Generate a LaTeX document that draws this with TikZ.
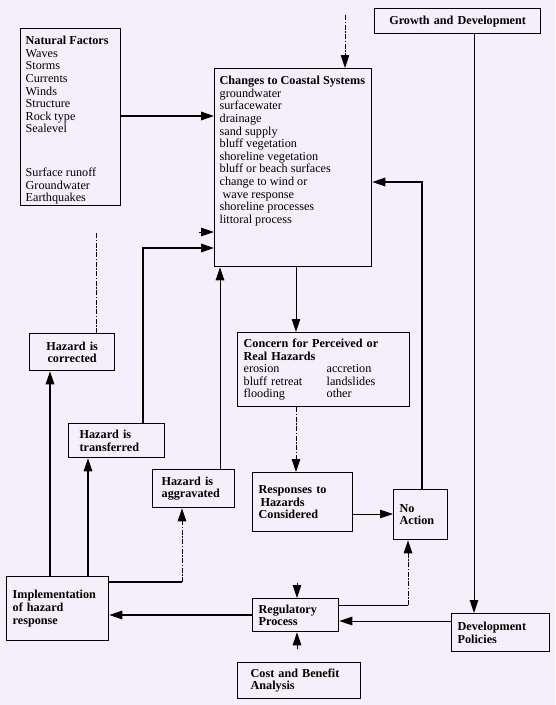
\documentclass[tikz,border=0pt]{standalone}
\usepackage{fontspec}
\setmainfont{Liberation Serif}
\usetikzlibrary{arrows.meta}
\definecolor{bg}{RGB}{244,239,250}
\newcommand\fs{\fontsize{12.2}{12.6}\selectfont}
\begin{document}
\begin{tikzpicture}[x=1pt,y=-1pt,
  box/.style={draw, line width=1.3pt, anchor=north west, inner ysep=1pt, align=left, font=\fs},
  tbox/.style={draw, line width=1.3pt, anchor=north west, inner sep=0pt, font=\fs},
  arr/.style={-{Triangle[length=13pt,width=8.5pt]}},
  thin/.style={line width=0.9pt},
  thick/.style={line width=1.5pt},
  dsh/.style={line width=0.9pt, dash pattern=on 5pt off 1.5pt on 1.5pt off 1.5pt}]
\useasboundingbox[fill=bg] (0,0) rectangle (555,705);

% boxes
\node[tbox] (nat) at (20,28) {\parbox[c][177pt][t]{100pt}{\leftskip=5pt\vspace*{7.5pt}\textbf{Natural Factors}\\Waves\\Storms\\Currents\\Winds\\Structure\\Rock type\\Sealevel\\[31.2pt]Surface runoff\\Groundwater\\Earthquakes}};
\node[tbox] (chg) at (214,68) {\parbox[c][198pt][t]{157pt}{\leftskip=5pt\vspace*{7.5pt}\textbf{Changes to Coastal Systems}\\groundwater\\surfacewater\\drainage\\sand supply\\bluff vegetation\\shoreline vegetation\\bluff or beach surfaces\\change to wind or\\\hspace*{3pt}wave response\\shoreline processes\\littoral process}};
\node[box, minimum width=166pt, minimum height=25pt, text width=156pt, inner xsep=5pt, align=center] (grow) at (374,8) {\textbf{Growth and Development}};
\node[box, minimum width=85pt, minimum height=37pt, text width=75pt, inner xsep=5pt, align=center] (corr) at (29,333) {\textbf{Hazard is}\\\textbf{corrected}};
\node[box, minimum width=96pt, minimum height=34pt, text width=74pt, inner xsep=11pt] (trans) at (68,423) {\textbf{Hazard is}\\\textbf{transferred}};
\node[box, minimum width=82pt, minimum height=38pt, text width=64pt, inner xsep=9pt] (aggr) at (152,469) {\textbf{Hazard is}\\\textbf{aggravated}};
\node[box, minimum width=172pt, minimum height=74pt, text width=160pt, inner xsep=6pt] (conc) at (237,332) {\textbf{Concern for Perceived or}\\\textbf{Real Hazards}\\\makebox[83pt][l]{erosion}accretion\\\makebox[83pt][l]{bluff retreat}landslides\\\makebox[83pt][l]{flooding}other};
\node[box, minimum width=100pt, minimum height=59pt, text width=88pt, inner xsep=6pt] (resp) at (252,472) {\textbf{Responses to}\\\hspace*{2pt}\textbf{Hazards}\\\textbf{Considered}};
\node[box, minimum width=54pt, minimum height=50pt, text width=42pt, inner xsep=6pt] (noact) at (393,489) {\textbf{No}\\\textbf{Action}\\[4pt]};
\node[box, minimum width=102pt, minimum height=64pt, text width=90pt, inner xsep=6pt] (impl) at (6,576) {\textbf{Implementation}\\\textbf{of hazard}\\\textbf{response}};
\node[box, minimum width=86pt, minimum height=33pt, text width=74pt, inner xsep=6pt] (reg) at (252,598) {\textbf{Regulatory}\\\textbf{Process}};
\node[box, minimum width=98pt, minimum height=38pt, text width=86pt, inner xsep=6pt] (dev) at (451,613) {\textbf{Development}\\\textbf{Policies}};
\node[box, minimum width=123pt, minimum height=36pt, text width=97pt, inner xsep=13pt] (cost) at (237,662) {\textbf{Cost and Benefit}\\\textbf{Analysis}};

% helper coordinates
\coordinate (topin) at (345,15);
\coordinate (xa) at (474,0);
\coordinate (ya) at (0,116);
\coordinate (c1) at (96,233);
\coordinate (c1b) at (199,232);
\coordinate (c2) at (143,248);
\coordinate (c3) at (220,0);
\coordinate (c4) at (296,0);
\coordinate (c5) at (0,514);
\coordinate (c6) at (422,182);
\coordinate (c7) at (50,0);
\coordinate (c8) at (88,0);
\coordinate (c9) at (182,582);
\coordinate (c10) at (0,615);
\coordinate (c11) at (408,605);
\coordinate (c12) at (0,621);
\coordinate (c13) at (297,583);
\coordinate (c14) at (297,649);

% connectors
\draw[dsh, arr] (topin) -- (topin |- chg.north);
\draw[thin, arr] (grow.south -| xa) -- (dev.north -| xa);
\draw[thick, arr] (nat.east |- ya) -- (chg.west |- ya);
\draw[dsh] (corr.north -| c1) -- (c1);
\draw[thin, arr] (c1b) -- (chg.west |- c1b);
\draw[thick, arr] (trans.north -| c2) -- (c2) -- (chg.west |- c2);
\draw[thin, arr] (aggr.north -| c3) -- (chg.south -| c3);
\draw[thin, arr] (chg.south -| c4) -- (conc.north -| c4);
\draw[dsh, arr] (conc.south -| c4) -- (resp.north -| c4);
\draw[thin, arr] (resp.east |- c5) -- (noact.west |- c5);
\draw[thick, arr] (noact.north -| c6) -- (c6) -- (chg.east |- c6);
\draw[thick, arr] (impl.north -| c7) -- (corr.south -| c7);
\draw[thick, arr] (impl.north -| c8) -- (trans.south -| c8);
\draw[thick] (impl.east |- c9) -- (c9);
\draw[dsh, arr] (c9) -- (aggr.south -| c9);
\draw[thick, arr] (reg.west |- c10) -- (impl.east |- c10);
\draw[thin] (reg.east |- c11) -- (c11);
\draw[dsh, arr] (c11) -- (noact.south -| c11);
\draw[thin, arr] (dev.west |- c12) -- (reg.east |- c12);
\draw[thin, arr] (c13) -- (reg.north -| c13);
\draw[thin, arr] (c14) -- (reg.south -| c14);
\end{tikzpicture}
\end{document}
